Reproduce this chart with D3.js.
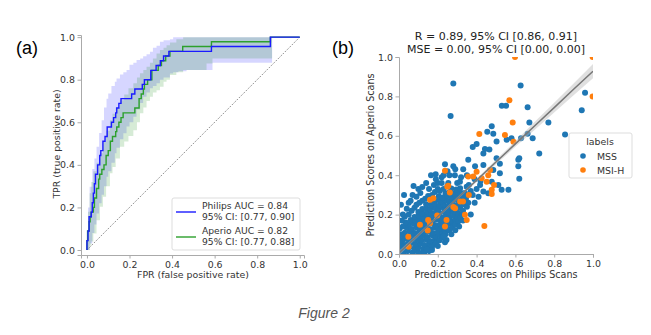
<!DOCTYPE html>
<html>
<head>
<meta charset="utf-8">
<script src="https://cdn.jsdelivr.net/npm/d3@7"></script>
<style>
  body { margin: 0; background: #fff; }
  svg text { font-family: "DejaVu Sans", sans-serif; fill: #333; }
</style>
</head>
<body>
<div id="fig"></div>
<script>
// ---- data (a): ROC steps [fpr, tpr] ----
var philipsRoc = [[0,0],[0,0.044],[0.005,0.089],[0.01,0.156],[0.02,0.178],[0.025,0.222],[0.03,0.267],
  [0.035,0.311],[0.04,0.356],[0.05,0.4],[0.06,0.444],[0.065,0.467],[0.075,0.511],[0.085,0.533],[0.095,0.578],
  [0.115,0.6],[0.125,0.622],[0.135,0.644],[0.14,0.667],[0.15,0.689],[0.16,0.711],[0.21,0.733],[0.225,0.756],
  [0.26,0.778],[0.27,0.8],[0.30,0.844],[0.325,0.867],[0.345,0.889],[0.36,0.911],[0.385,0.933],[0.585,0.956],
  [0.862,1],[1,1]];
var aperioRoc = [[0,0],[0,0.044],[0.003,0.089],[0.01,0.133],[0.015,0.156],[0.02,0.178],[0.03,0.2],
  [0.035,0.244],[0.045,0.289],[0.055,0.333],[0.06,0.356],[0.07,0.378],[0.08,0.4],[0.09,0.444],[0.1,0.467],
  [0.11,0.511],[0.12,0.533],[0.135,0.556],[0.14,0.578],[0.15,0.6],[0.16,0.622],[0.17,0.644],[0.225,0.667],
  [0.245,0.711],[0.255,0.733],[0.265,0.756],[0.27,0.778],[0.285,0.8],[0.305,0.844],[0.335,0.867],[0.35,0.889],
  [0.37,0.911],[0.39,0.933],[0.45,0.956],[0.585,0.978],[0.862,1],[1,1]];
// CI bands [fpr, lower, upper]
var philipsBand = [[0,0,0.09],[0.005,0,0.2],[0.0126,0.03,0.297],[0.025,0.08,0.38],[0.035,0.12,0.43],
  [0.045,0.172,0.485],[0.057,0.22,0.55],[0.069,0.26,0.61],[0.08,0.3,0.67],[0.092,0.344,0.71],[0.1,0.37,0.735],
  [0.115,0.41,0.77],[0.131,0.454,0.79],[0.139,0.48,0.806],[0.155,0.52,0.825],[0.171,0.548,0.835],
  [0.186,0.58,0.845],[0.2,0.6,0.87],[0.218,0.626,0.88],[0.233,0.66,0.892],[0.25,0.69,0.9],[0.264,0.72,0.91],
  [0.28,0.74,0.92],[0.296,0.76,0.931],[0.31,0.77,0.95],[0.327,0.783,0.96],[0.343,0.8,0.978],[0.36,0.81,0.985],
  [0.39,0.829,0.99],[0.405,0.835,1],[0.43,0.84,1],[0.468,0.845,1],[0.59,0.88,1],[0.87,1,1],[1,1,1]];
var aperioBand = [[0,0,0.07],[0.005,0,0.18],[0.0126,0.02,0.266],[0.02,0.04,0.32],[0.03,0.078,0.37],
  [0.045,0.14,0.41],[0.061,0.203,0.454],[0.075,0.25,0.51],[0.09,0.3,0.56],[0.108,0.36,0.61],[0.12,0.39,0.64],
  [0.135,0.43,0.67],[0.155,0.485,0.704],[0.175,0.51,0.73],[0.195,0.535,0.76],[0.218,0.563,0.783],
  [0.235,0.6,0.81],[0.249,0.642,0.83],[0.265,0.67,0.845],[0.28,0.7,0.861],[0.296,0.72,0.88],[0.31,0.74,0.9],
  [0.327,0.75,0.923],[0.343,0.767,0.94],[0.36,0.79,0.95],[0.374,0.8,0.962],[0.39,0.822,0.975],[0.42,0.835,0.99],
  [0.452,0.845,1],[0.562,0.876,1],[0.59,0.9,1],[0.87,1,1],[1,1,1]];
var rocLegend = [["Philips AUC = 0.84", "95% CI: [0.77, 0.90]"], ["Aperio AUC = 0.82", "95% CI: [0.77, 0.88]"]];

// ---- data (b): prediction scores [philips, aperio] ----
var mssPoints = [
  [0.005,0.012],[0.025,0.006],[0.045,0.015],[0.07,0.008],[0.095,0.013],[0.115,0.005],
  [0.01,0.032],[0.03,0.027],[0.055,0.035],[0.08,0.028],[0.10,0.033],[0.125,0.026],[0.145,0.034],
  [0.015,0.052],[0.04,0.047],[0.06,0.055],[0.085,0.049],[0.11,0.053],[0.13,0.046],[0.155,0.054],[0.175,0.048],
  [0.02,0.07],[0.045,0.075],[0.065,0.067],[0.09,0.073],[0.115,0.068],[0.14,0.074],[0.16,0.066],[0.185,0.072],[0.2,0.069],
  [0.025,0.093],[0.05,0.087],[0.075,0.094],[0.1,0.088],[0.12,0.092],[0.145,0.086],[0.17,0.095],[0.19,0.089],[0.215,0.093],
  [0.03,0.108],[0.055,0.114],[0.08,0.107],[0.105,0.113],[0.13,0.109],[0.15,0.115],[0.175,0.106],[0.2,0.112],[0.225,0.108],[0.24,0.114],
  [0.04,0.133],[0.065,0.127],[0.09,0.134],[0.11,0.128],[0.135,0.132],[0.16,0.126],[0.185,0.135],[0.21,0.129],[0.23,0.133],[0.255,0.127],
  [0.05,0.148],[0.075,0.154],[0.1,0.147],[0.12,0.153],[0.145,0.149],[0.165,0.155],[0.19,0.146],[0.215,0.152],[0.24,0.148],[0.265,0.154],[0.28,0.147],
  [0.06,0.173],[0.085,0.167],[0.105,0.174],[0.13,0.168],[0.155,0.172],[0.175,0.166],[0.2,0.175],[0.225,0.169],[0.25,0.173],[0.27,0.167],[0.29,0.172],
  [0.08,0.188],[0.1,0.194],[0.125,0.187],[0.145,0.193],[0.17,0.189],[0.195,0.195],[0.215,0.186],[0.24,0.192],[0.26,0.188],[0.285,0.194],[0.3,0.187],
  [0.1,0.213],[0.12,0.207],[0.145,0.214],[0.165,0.208],[0.19,0.212],[0.21,0.206],[0.235,0.215],[0.26,0.209],[0.28,0.213],[0.305,0.207],
  [0.12,0.228],[0.14,0.234],[0.16,0.227],[0.185,0.233],[0.205,0.229],[0.23,0.235],[0.25,0.226],[0.275,0.232],[0.295,0.228],[0.315,0.234],
  [0.14,0.253],[0.165,0.247],[0.185,0.254],[0.21,0.248],[0.23,0.252],[0.255,0.246],[0.275,0.255],[0.3,0.249],[0.32,0.253],
  [0.17,0.268],[0.195,0.274],[0.215,0.267],[0.24,0.273],[0.26,0.269],[0.285,0.275],[0.31,0.266],[0.33,0.272],
  [0.205,0.293],[0.225,0.287],[0.25,0.294],[0.27,0.288],[0.295,0.292],[0.315,0.286],[0.33,0.295],
  [0.24,0.308],[0.26,0.314],[0.285,0.307],[0.305,0.313],[0.325,0.309],
  [0.27,0.333],[0.295,0.327],[0.315,0.334],
  // ragged edges of the cluster
  [0.0,0.08],[0.01,0.1],[0.02,0.14],[0.035,0.16],[0.03,0.19],[0.05,0.2],[0.065,0.22],[0.08,0.235],[0.09,0.25],
  [0.105,0.26],[0.12,0.27],[0.135,0.28],[0.15,0.295],[0.17,0.3],[0.185,0.315],[0.21,0.32],[0.23,0.33],[0.25,0.345],
  [0.13,0.005],[0.155,0.015],[0.17,0.035],[0.19,0.055],[0.21,0.07],[0.225,0.085],[0.24,0.1],[0.26,0.12],[0.275,0.135],
  [0.29,0.15],[0.305,0.165],[0.315,0.185],[0.325,0.2],[0.33,0.22],[0.34,0.25],[0.345,0.28],
  // scattered around the cluster
  [0.005,0.06],[0.003,0.13],[0.015,0.17],[0.02,0.2],[0.01,0.25],[0.04,0.23],[0.05,0.26],[0.06,0.27],[0.026,0.30],
  [0.07,0.3],[0.075,0.345],[0.1,0.33],[0.09,0.29],[0.11,0.31],[0.12,0.34],[0.14,0.36],[0.155,0.33],[0.18,0.35],
  [0.2,0.36],[0.19,0.38],[0.22,0.39],[0.23,0.4],[0.25,0.42],[0.165,0.40],[0.189,0.405],[0.2,0.33],[0.22,0.36],
  [0.237,0.456],[0.26,0.40],[0.28,0.445],[0.29,0.43],[0.288,0.40],[0.254,0.36],[0.314,0.367],[0.349,0.342],
  [0.143,0.024],[0.17,0.02],[0.2,0.04],[0.237,0.06],[0.245,0.071],[0.23,0.09],[0.27,0.1],[0.29,0.12],[0.31,0.14],
  [0.33,0.17],[0.35,0.24],[0.357,0.26],[0.37,0.2],[0.39,0.26],[0.41,0.29],[0.34,0.31],[0.37,0.32],[0.38,0.3],
  [0.4,0.33],[0.42,0.37],[0.36,0.35],[0.39,0.38],[0.3,0.36],[0.32,0.39],[0.35,0.4],
  [0.331,0.43],[0.357,0.478],[0.392,0.445],[0.435,0.452],[0.486,0.427],[0.52,0.41],[0.418,0.35],[0.435,0.317],
  [0.46,0.308],[0.478,0.367],[0.512,0.35],[0.529,0.326],[0.564,0.326],[0.52,0.458],[0.615,0.478],[0.615,0.445],
  [0.38,0.543],[0.40,0.558],[0.435,0.51],[0.466,0.53],[0.455,0.62],[0.478,0.648],[0.486,0.61],[0.503,0.571],
  [0.443,0.533],[0.503,0.486],[0.62,0.486],[0.62,0.382],[0.629,0.587],[0.58,0.587],[0.555,0.58],[0.663,0.61],
  [0.689,0.587],[0.663,0.745],[0.672,0.668],[0.77,0.668],[0.723,0.51],[0.856,0.606],[0.942,0.73],[0.959,0.818],
  [0.627,0.855],[0.53,0.753],[0.552,0.753],[0.266,0.70],[0.28,0.865]];
var msihPoints = [[0.598,1.0],[0.998,1.0],[0.998,0.80],[0.569,0.78],[0.586,0.668],[0.414,0.609],[0.546,0.604],
  [0.59,0.57],[0.237,0.422],[0.40,0.418],[0.357,0.393],[0.383,0.393],[0.469,0.427],[0.46,0.40],[0.452,0.367],
  [0.426,0.385],[0.478,0.326],[0.49,0.35],[0.478,0.304],[0.249,0.342],[0.262,0.312],[0.44,0.142],[0.254,0.346],
  [0.16,0.275],[0.177,0.283],[0.315,0.266],[0.34,0.199],[0.349,0.173],[0.289,0.232],[0.108,0.148],[0.15,0.173],
  [0.16,0.156],[0.148,0.119],[0.237,0.139],[0.245,0.173],[0.048,0.088],[0.05,0.037],[0.36,0.30],[0.197,0.195],
  [0.28,0.238],[0.33,0.266]];
// regression fit and its CI
var regX  = [0, 0.1, 0.2, 0.3, 0.4, 0.5, 0.6, 0.7, 0.8, 0.9, 1.0];
var regY  = [0.005, 0.097, 0.190, 0.282, 0.374, 0.467, 0.559, 0.651, 0.743, 0.836, 0.928];
var regLo = [-0.007, 0.089, 0.184, 0.276, 0.366, 0.456, 0.544, 0.631, 0.718, 0.806, 0.892];
var regHi = [0.017, 0.105, 0.196, 0.288, 0.382, 0.478, 0.574, 0.671, 0.768, 0.866, 0.964];
var scatterTitle = ["R = 0.89, 95% CI [0.86, 0.91]", "MSE = 0.00, 95% CI [0.00, 0.00]"];
var labelNames = ["MSS", "MSI-H"];
var ticks = [0, 0.2, 0.4, 0.6, 0.8, 1.0];

var svg = d3.select("#fig").append("svg").attr("width", 651).attr("height", 335);
var fmt = d3.format(".1f");

function styleAxis(g) {
  g.selectAll("text").style("font-size", "9.4px").style("fill", "#333");
  g.selectAll(".domain").attr("stroke", "#aaa");
  g.selectAll(".tick line").attr("stroke", "#aaa");
}

// turn [x, lo, hi] steps into corner points so the band is one plain polygon
function stepCorners(band) {
  var out = [];
  band.forEach(function(p, i) {
    out.push(p);
    if (i < band.length - 1) out.push([band[i + 1][0], p[1], p[2]]);
  });
  return out;
}

// ---------- panel (a) ----------
var xa = d3.scaleLinear().domain([-0.028, 1.02]).range([81, 304]);
var ya = d3.scaleLinear().domain([-0.0235, 1.01]).range([255, 35]);

var bandArea = d3.area()
  .x(function(p) { return xa(p[0]); })
  .y0(function(p) { return ya(p[1]); })
  .y1(function(p) { return ya(p[2]); });
svg.append("path").attr("d", bandArea(stepCorners(philipsBand))).attr("fill", "blue").attr("fill-opacity", 0.16);
svg.append("path").attr("d", bandArea(stepCorners(aperioBand))).attr("fill", "green").attr("fill-opacity", 0.16);

svg.append("line").attr("x1", xa(0)).attr("y1", ya(0)).attr("x2", xa(1)).attr("y2", ya(1))
  .attr("stroke", "#222").attr("stroke-width", 0.7).attr("stroke-dasharray", "1,1.5");

var rocLine = d3.line().curve(d3.curveStepAfter)
  .x(function(p) { return xa(p[0]); }).y(function(p) { return ya(p[1]); });
svg.append("path").attr("d", rocLine(aperioRoc)).attr("fill", "none").attr("stroke", "#2ca02c").attr("stroke-width", 1.4);
svg.append("path").attr("d", rocLine(philipsRoc)).attr("fill", "none").attr("stroke", "#1a1aff").attr("stroke-width", 1.4);

svg.append("g").attr("transform", "translate(0,255)")
  .call(d3.axisBottom(xa).tickValues(ticks).tickFormat(fmt).tickSizeOuter(0).tickSize(3.5).tickPadding(2.5))
  .call(styleAxis);
svg.append("g").attr("transform", "translate(81,0)")
  .call(d3.axisLeft(ya).tickValues(ticks).tickFormat(fmt).tickSizeOuter(0).tickSize(3.5).tickPadding(2.5))
  .call(styleAxis);

svg.append("text").attr("x", 193).attr("y", 278).attr("text-anchor", "middle")
  .style("font-size", "9.4px").text("FPR (false positive rate)");
svg.append("text").attr("transform", "translate(60,144) rotate(-90)").attr("text-anchor", "middle")
  .style("font-size", "9.4px").text("TPR (true positive rate)");

// legend (a)
var lg = svg.append("g");
lg.append("rect").attr("x", 172).attr("y", 198).attr("width", 128).attr("height", 52).attr("rx", 2)
  .attr("fill", "#fff").attr("fill-opacity", 0.85).attr("stroke", "#ddd");
var legColors = ["#1a1aff", "#2ca02c"];
rocLegend.forEach(function(l, i) {
  var y0 = 209 + i * 25;
  lg.append("line").attr("x1", 176).attr("x2", 196).attr("y1", y0 + 3).attr("y2", y0 + 3)
    .attr("stroke", legColors[i]).attr("stroke-width", 1.4);
  lg.append("text").attr("x", 202).attr("y", y0).style("font-size", "9.2px").text(l[0]);
  lg.append("text").attr("x", 202).attr("y", y0 + 11).style("font-size", "9.2px").text(l[1]);
});

// ---------- panel (b) ----------
var xb = d3.scaleLinear().domain([0, 1]).range([399, 593]);
var yb = d3.scaleLinear().domain([0, 1]).range([254, 57]);

svg.append("clipPath").attr("id", "clipb").append("rect")
  .attr("x", 399).attr("y", 57).attr("width", 194).attr("height", 197);
var pb = svg.append("g").attr("clip-path", "url(#clipb)");

pb.selectAll("circle.mss").data(mssPoints).enter().append("circle").attr("class", "mss")
  .attr("cx", function(d) { return xb(d[0]); }).attr("cy", function(d) { return yb(d[1]); })
  .attr("r", 3).attr("fill", "#1f77b4");
pb.selectAll("circle.msih").data(msihPoints).enter().append("circle").attr("class", "msih")
  .attr("cx", function(d) { return xb(d[0]); }).attr("cy", function(d) { return yb(d[1]); })
  .attr("r", 3).attr("fill", "#ff7f0e");

var regIdx = d3.range(regX.length);
pb.append("path").attr("d", d3.area()
    .x(function(i) { return xb(regX[i]); })
    .y0(function(i) { return yb(regLo[i]); })
    .y1(function(i) { return yb(regHi[i]); })(regIdx))
  .attr("fill", "#bbb").attr("fill-opacity", 0.45);
pb.append("path").attr("d", d3.line()
    .x(function(i) { return xb(regX[i]); })
    .y(function(i) { return yb(regY[i]); })(regIdx))
  .attr("fill", "none").attr("stroke", "#777").attr("stroke-width", 1.5);

svg.append("g").attr("transform", "translate(0,254)")
  .call(d3.axisBottom(xb).tickValues(ticks).tickFormat(fmt).tickSizeOuter(0).tickSize(3.5).tickPadding(2.5))
  .call(styleAxis);
svg.append("g").attr("transform", "translate(399,0)")
  .call(d3.axisLeft(yb).tickValues(ticks).tickFormat(fmt).tickSizeOuter(0).tickSize(3.5).tickPadding(2.5))
  .call(styleAxis);

svg.append("text").attr("x", 496).attr("y", 278).attr("text-anchor", "middle")
  .style("font-size", "9.6px").text("Prediction Scores on Philips Scans");
svg.append("text").attr("transform", "translate(374,155) rotate(-90)").attr("text-anchor", "middle")
  .style("font-size", "9.6px").text("Prediction Scores on Aperio Scans");
scatterTitle.forEach(function(t, i) {
  svg.append("text").attr("x", 496).attr("y", 40 + i * 13).attr("text-anchor", "middle")
    .style("font-size", "11px").style("fill", "#222").text(t);
});

// legend (b)
var lb = svg.append("g");
lb.append("rect").attr("x", 569).attr("y", 133).attr("width", 63).attr("height", 45).attr("rx", 2)
  .attr("fill", "#fff").attr("fill-opacity", 0.85).attr("stroke", "#ddd");
lb.append("text").attr("x", 600).attr("y", 145).attr("text-anchor", "middle").style("font-size", "9.4px").text("labels");
var ptColors = ["#1f77b4", "#ff7f0e"];
labelNames.forEach(function(n, i) {
  lb.append("circle").attr("cx", 583).attr("cy", 156 + i * 14).attr("r", 2.8).attr("fill", ptColors[i]);
  lb.append("text").attr("x", 597).attr("y", 159.5 + i * 14).style("font-size", "9.4px").text(n);
});

// panel letters + caption
svg.append("text").attr("x", 16).attr("y", 54).style("font-family", "Liberation Sans, Arial, sans-serif")
  .style("font-size", "18px").style("fill", "#000").text("(a)");
svg.append("text").attr("x", 332).attr("y", 54).style("font-family", "Liberation Sans, Arial, sans-serif")
  .style("font-size", "18px").style("fill", "#000").text("(b)");
svg.append("text").attr("x", 324).attr("y", 318).attr("text-anchor", "middle")
  .style("font-family", "Liberation Sans, Arial, sans-serif").style("font-style", "italic")
  .style("font-size", "14px").style("fill", "#555").text("Figure 2");
</script>
</body>
</html>
